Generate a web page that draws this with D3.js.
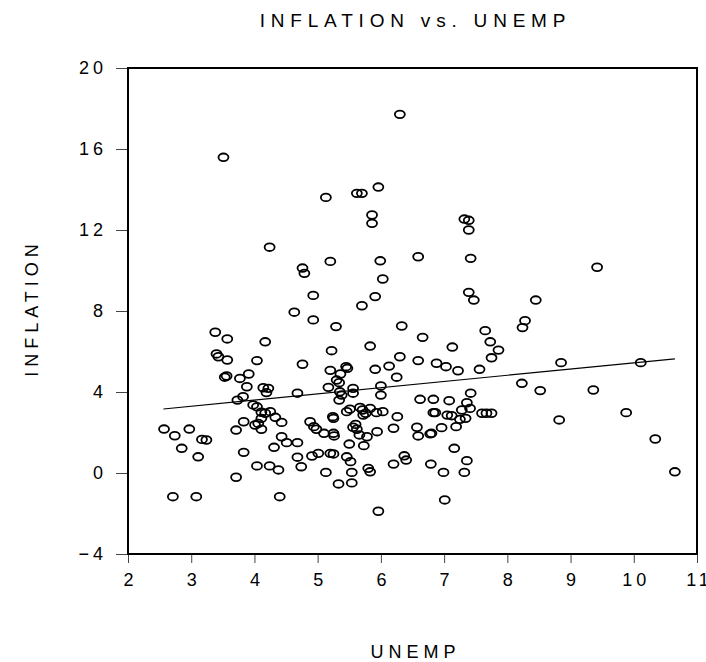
<!DOCTYPE html>
<html>
<head>
<meta charset="utf-8">
<script src="https://cdn.jsdelivr.net/npm/d3@7"></script>
<style>
  body { margin: 0; background: #fff; }
  svg { display: block; font-family: "Liberation Sans", Arial, sans-serif; }
</style>
</head>
<body>
<svg width="706" height="662"></svg>
<script>
// UNEMP values (x) and INFLATION values (y)
var unemp = [3.51,5.13,4.24,5.20,4.76,4.79,4.93,4.63,
  6.30,5.62,5.70,5.96,5.86,5.86,7.32,7.39,7.39,5.99,6.59,7.42,6.03,5.91,5.70,7.39,7.47,
  9.42,8.45,
  4.93,5.29,3.38,3.57,4.17,3.40,3.43,3.57,4.04,4.76,5.22,5.20,3.53,3.56,3.77,3.91,3.88,4.14,4.22,4.19,4.68,5.17,5.30,
  3.73,3.82,3.98,4.04,4.11,4.17,4.25,4.11,4.33,4.43,3.83,4.01,4.06,4.11,3.71,2.57,2.74,2.97,2.85,3.17,3.24,3.11,2.71,3.08,3.71,4.40,3.83,4.43,4.51,4.31,4.68,4.04,4.24,4.38,4.68,4.74,4.88,4.94,4.98,5.10,4.91,5.01,5.25,5.26,5.24,5.25,5.20,5.25,5.13,5.33,5.34,
  6.33,6.66,5.83,7.65,7.73,7.86,7.75,7.13,6.30,6.59,6.88,7.03,7.22,7.56,6.13,5.91,6.25,5.45,5.47,5.36,5.34,5.35,5.38,5.56,5.56,6.00,6.00,8.23,7.42,6.62,6.83,7.08,7.36,7.28,7.41,6.83,6.86,7.05,7.12,7.34,7.25,7.60,7.67,7.75,7.19,6.96,6.57,6.59,6.78,6.80,6.20,6.26,5.94,7.16,7.36,7.32,6.99,6.79,6.37,6.40,6.20,7.01,5.96,5.80,5.83,5.54,5.54,5.52,5.46,5.50,5.73,5.78,5.66,5.56,5.62,5.60,5.46,5.51,5.67,5.71,5.83,5.93,6.03,5.72,5.76,
  8.28,8.24,8.85,10.11,8.52,9.36,8.82,9.88,10.34,10.65];
var inflation = [15.59,13.61,11.15,10.45,10.12,9.86,8.77,7.94,
  17.71,13.81,13.81,14.12,12.74,12.33,12.54,12.48,12.00,10.48,10.68,10.60,9.58,8.71,8.26,8.92,8.54,
  10.16,8.54,
  7.56,7.23,6.95,6.62,6.48,5.88,5.74,5.58,5.55,5.37,6.04,5.07,4.73,4.79,4.67,4.89,4.26,4.21,4.18,3.97,3.94,4.23,4.59,
  3.60,3.77,3.36,3.27,3.00,2.95,3.03,2.70,2.75,2.50,2.53,2.37,2.45,2.16,2.12,2.17,1.84,2.17,1.22,1.66,1.63,0.80,-1.17,-1.17,-0.21,-1.17,1.02,1.79,1.50,1.27,1.50,0.35,0.35,0.15,0.78,0.31,2.53,2.29,2.16,1.96,0.84,0.97,1.96,1.83,2.78,2.70,0.97,0.94,0.03,-0.54,3.60,
  7.26,6.70,6.27,7.03,6.48,6.07,5.69,6.22,5.74,5.55,5.42,5.25,5.05,5.12,5.28,5.12,4.73,5.25,5.17,4.89,4.46,4.01,3.85,4.18,3.94,4.30,3.85,4.43,3.94,3.64,3.64,3.57,3.47,3.11,3.19,2.98,2.98,2.86,2.83,2.70,2.65,2.95,2.95,2.95,2.29,2.24,2.26,1.83,1.93,1.96,2.21,2.78,2.04,1.22,0.61,0.03,0.03,0.44,0.85,0.64,0.44,-1.33,-1.89,0.23,0.06,0.03,-0.49,0.56,0.80,1.43,1.35,1.79,1.88,2.26,2.16,2.40,3.03,3.15,3.24,3.11,3.19,2.98,3.03,2.86,2.95,
  7.52,7.18,5.45,5.45,4.07,4.10,2.62,2.98,1.68,0.06];

// fitted line end points
var fitX = [2.56, 10.65];
var fitY = [3.16, 5.64];

var xTicks = [2,3,4,5,6,7,8,9,10,11];
var yTicks = [-4,0,4,8,12,16,20];

var svg = d3.select("svg");
var pLeft = 128, pRight = 697, pTop = 68, pBottom = 554;

var x = d3.scaleLinear().domain([2, 11]).range([pLeft, pRight]);
var y = d3.scaleLinear().domain([-4, 20]).range([pBottom, pTop]);

// x axis
var xaxis = d3.axisBottom(x).tickValues(xTicks).tickSize(9).tickPadding(10).tickFormat(d3.format("d"));
var gx = svg.append("g").attr("transform", "translate(0," + pBottom + ")").call(xaxis);
// y axis
var yaxis = d3.axisLeft(y).tickValues(yTicks).tickSize(12).tickPadding(9).tickFormat(d3.format("d"));
var gy = svg.append("g").attr("transform", "translate(" + pLeft + ",0)").call(yaxis);

[gx, gy].forEach(function(g) {
  g.select(".domain").remove();
  g.selectAll(".tick line").attr("stroke", "#444").attr("stroke-width", 1);
  g.selectAll(".tick text").attr("fill", "#000").style("font-size", "18px").style("letter-spacing", "4px");
});
gx.selectAll(".tick text").attr("dx", "2px");

// frame
svg.append("rect")
  .attr("x", pLeft).attr("y", pTop)
  .attr("width", pRight - pLeft).attr("height", pBottom - pTop)
  .attr("fill", "none").attr("stroke", "#000").attr("stroke-width", 2);

// fit line
var fit = fitX.map(function(v, i) { return [v, fitY[i]]; });
svg.append("path")
  .attr("d", d3.line().x(function(d) { return x(d[0]); }).y(function(d) { return y(d[1]); })(fit))
  .attr("fill", "none").attr("stroke", "#000").attr("stroke-width", 1.2);

// points
var pts = unemp.map(function(v, i) { return {u: v, inf: inflation[i]}; });
svg.append("g").selectAll("ellipse").data(pts).enter().append("ellipse")
  .attr("cx", function(d) { return x(d.u); })
  .attr("cy", function(d) { return y(d.inf); })
  .attr("rx", 5).attr("ry", 3.8)
  .attr("fill", "none").attr("stroke", "#000").attr("stroke-width", 1.8);

// titles
svg.append("text")
  .attr("x", (pLeft + pRight) / 2 + 3).attr("y", 27)
  .attr("text-anchor", "middle")
  .style("font-size", "19px").style("letter-spacing", "5.8px")
  .text("INFLATION vs. UNEMP");

svg.append("text")
  .attr("x", (pLeft + pRight) / 2 + 3).attr("y", 658)
  .attr("text-anchor", "middle")
  .style("font-size", "18px").style("letter-spacing", "5px")
  .text("UNEMP");

svg.append("text")
  .attr("transform", "translate(38," + ((pTop + pBottom) / 2 - 3) + ") rotate(-90)")
  .attr("text-anchor", "middle")
  .style("font-size", "18px").style("letter-spacing", "5px")
  .text("INFLATION");
</script>
</body>
</html>
